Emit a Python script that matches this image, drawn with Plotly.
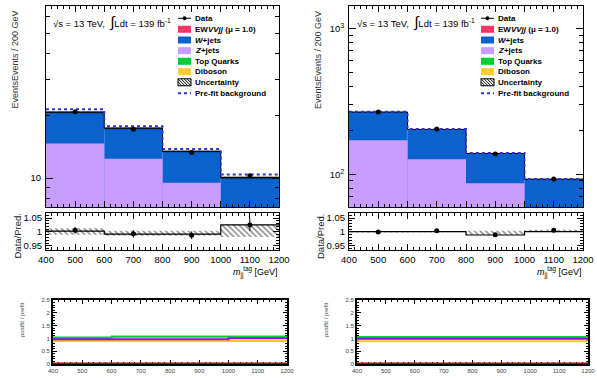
import plotly.graph_objects as go

W, H = 597, 379
FONT = "Liberation Sans, Arial, sans-serif"

# ---------------- data ----------------
edges = [400, 600, 800, 1000, 1200]
centers = [500, 700, 900, 1100]
bin_width = 200

# left region
L_data = [20.9, 17.2, 13.3, 10.25]
L_data_err = [0.25, 0.22, 0.2, 0.22]
L_zjets = [14.7, 12.4, 9.5, 6.8]
L_wjets = [6.1, 5.0, 3.95, 3.25]
L_prefit = [21.5, 17.8, 13.8, 10.4]
L_unc_rel = [0.011, 0.01, 0.01, 0.012]
L_ratio_data = [1.006, 0.993, 0.988, 1.025]
L_ratio_err = [0.012, 0.013, 0.014, 0.022]
L_ratio_line = [1.003, 0.992, 0.992, 1.025]
L_band_lo = [0.990, 0.986, 0.986, 0.982]
L_band_hi = [1.013, 1.004, 1.004, 1.026]
L_pf_top = [1.04, 1.07, 1.07, 1.07]
L_pf_top2 = [1.02, 1.05, 1.05, 1.05]
L_pf_z = [0.97, 0.97, 0.97, 1.01]
L_pf_dib = [0.9, 0.9, 0.9, 0.9]
L_pf_ew = [0.0, 0.0, 0.0, 0.0]

# right region
R_data = [267, 204, 138, 93]
R_data_err = [1.5, 1.2, 1.0, 0.8]
R_zjets = [171, 127, 87, 55]
R_wjets = [96, 76, 52, 37.5]
R_prefit = [268, 204, 140, 93]
R_unc_rel = [0.004, 0.004, 0.008, 0.006]
R_ratio_data = [1.0, 1.004, 0.99, 1.006]
R_ratio_err = [0.003, 0.004, 0.004, 0.004]
R_ratio_line = [1.001, 1.001, 0.989, 1.001]
R_band_lo = [0.998, 0.999, 0.989, 1.0]
R_band_hi = [1.003, 1.003, 1.004, 1.008]
R_pf_top = [1.05, 1.05, 1.05, 1.05]
R_pf_top2 = [1.04, 1.04, 1.04, 1.04]
R_pf_z = [0.99, 0.99, 0.99, 0.99]
R_pf_dib = [0.89, 0.89, 0.89, 0.89]
R_pf_ew = [0.0, 0.0, 0.0, 0.0]

C_EW = "#ff3366"
C_W = "#0a62cc"
C_Z = "#c99cff"
C_TOP = "#00cc33"
C_DIB = "#ffcc33"
C_PRE = "#3333cc"


def X(px):
    return px / W


def Y(py):
    return 1 - py / H


def step(vals):
    return edges, list(vals) + [vals[-1]]


fig = go.Figure()


def add_region(idx, data, data_err, zj, wj, prefit, unc_rel, rdata, rerr, rline,
               blo, bhi, pf_top, pf_top2, pf_z, pf_dib, pf_ew):
    xm, ym = f"x{idx}", f"y{idx}"
    xr, yr = f"x{idx+1}", f"y{idx+1}"
    xb, yb = f"x{idx+2}", f"y{idx+2}"
    total = [z + w for z, w in zip(zj, wj)]
    fig.add_trace(go.Bar(x=centers, y=total, width=bin_width, marker=dict(color=C_W, line_width=0),
                         xaxis=xm, yaxis=ym, showlegend=False))
    fig.add_trace(go.Bar(x=centers, y=zj, width=bin_width, marker=dict(color=C_Z, line_width=0),
                         xaxis=xm, yaxis=ym, showlegend=False))
    lo = [t * (1 - u) for t, u in zip(total, unc_rel)]
    hi = [t * (1 + u) for t, u in zip(total, unc_rel)]
    fig.add_trace(go.Bar(x=centers, y=[h - l for h, l in zip(hi, lo)], base=lo, width=bin_width,
                         marker=dict(color="rgba(20,20,40,0.55)", line_width=0,
                                     pattern=dict(shape="\\", fgcolor="black", size=3, solidity=0.4)),
                         xaxis=xm, yaxis=ym, showlegend=False))
    sx, sy = step(total)
    fig.add_trace(go.Scatter(x=sx, y=sy, mode="lines", line=dict(color="black", width=1, shape="hv"),
                             xaxis=xm, yaxis=ym, showlegend=False))
    px_, py_ = step(prefit)
    fig.add_trace(go.Scatter(x=px_, y=py_, mode="lines",
                             line=dict(color=C_PRE, width=2, dash="dot", shape="hv"),
                             xaxis=xm, yaxis=ym, showlegend=False))
    fig.add_trace(go.Scatter(x=centers, y=data, mode="markers",
                             marker=dict(color="black", size=5),
                             error_y=dict(type="data", array=data_err, color="black", thickness=1, width=0),
                             xaxis=xm, yaxis=ym, showlegend=False))
    # ratio panel
    fig.add_trace(go.Bar(x=centers, y=[h - l for h, l in zip(bhi, blo)], base=blo, width=bin_width,
                         marker=dict(color="rgba(0,0,0,0)", line_width=0,
                                     pattern=dict(shape="\\", fgcolor="black", size=4, solidity=0.35,
                                                  fillmode="overlay")),
                         xaxis=xr, yaxis=yr, showlegend=False))
    lx, ly = step(rline)
    fig.add_trace(go.Scatter(x=lx, y=ly, mode="lines", line=dict(color="black", width=1.2, shape="hv"),
                             xaxis=xr, yaxis=yr, showlegend=False))
    fig.add_trace(go.Scatter(x=centers, y=rdata, mode="markers",
                             marker=dict(color="black", size=5),
                             error_y=dict(type="data", array=rerr, color="black", thickness=1, width=0),
                             xaxis=xr, yaxis=yr, showlegend=False))
    # postfit / prefit panel
    for vals, col, lw in [(pf_top2, "#77ff77", 2), (pf_top, C_TOP, 2), (pf_dib, "#ffcc00", 2),
                          (pf_z, "#9900ff", 2), (pf_ew, "#aa0000", 3)]:
        bx, by = step(vals)
        fig.add_trace(go.Scatter(x=bx, y=by, mode="lines", line=dict(color=col, width=lw, shape="hv"),
                                 xaxis=xb, yaxis=yb, showlegend=False, cliponaxis=False))


add_region(1, L_data, L_data_err, L_zjets, L_wjets, L_prefit, L_unc_rel, L_ratio_data, L_ratio_err,
           L_ratio_line, L_band_lo, L_band_hi, L_pf_top, L_pf_top2, L_pf_z, L_pf_dib, L_pf_ew)
add_region(4, R_data, R_data_err, R_zjets, R_wjets, R_prefit, R_unc_rel, R_ratio_data, R_ratio_err,
           R_ratio_line, R_band_lo, R_band_hi, R_pf_top, R_pf_top2, R_pf_z, R_pf_dib, R_pf_ew)

tickfont = dict(family=FONT, size=9.5, color="black")
small_font = dict(family=FONT, size=6, color="#444")


def xaxis_common(dom, anchor, labels, font=tickfont, lw=1):
    return dict(domain=dom, anchor=anchor, range=[400, 1200], showline=True, linecolor="black",
                linewidth=lw, mirror="ticks", ticks="inside", ticklen=6, tickcolor="black",
                tick0=400, dtick=100, showgrid=False, zeroline=False, showticklabels=labels,
                tickfont=font, automargin=False, ticklabelstandoff=1,
                minor=dict(ticks="inside", ticklen=3, dtick=20, tickcolor="black"))


main_y = [Y(207), Y(6)]
ratio_y = [Y(250), Y(213)]
bot_y = [Y(364), Y(300)]
Lx = [X(46), X(279)]
Rx = [X(349), X(583)]
Lbx = [X(53), X(287)]
Rbx = [X(357), X(588)]

layout = dict(
    width=W, height=H, margin=dict(l=0, r=0, t=0, b=0, autoexpand=False), paper_bgcolor="white",
    plot_bgcolor="white", barmode="overlay", showlegend=False, font=dict(family=FONT, color="black"),
)

layout["xaxis"] = xaxis_common(Lx, "y", False)
layout["xaxis2"] = xaxis_common(Lx, "y2", True)
layout["xaxis3"] = xaxis_common(Lbx, "y3", True, small_font, 2)
layout["xaxis4"] = xaxis_common(Rx, "y4", False)
layout["xaxis5"] = xaxis_common(Rx, "y5", True)
layout["xaxis6"] = xaxis_common(Rbx, "y6", True, small_font, 2)
for k in ["xaxis3", "xaxis6"]:
    layout[k]["ticklen"] = 4
    layout[k]["minor"]["ticklen"] = 2
    layout[k]["ticklabelstandoff"] = 0
    layout[k]["layer"] = "below traces"

L_major = [10]
L_major_text = ["10"]
L_minor = [8, 9, 20, 30, 40, 50, 60]
R_major = [100, 1000]
R_major_text = ["10<sup>2</sup>", "10<sup>3</sup>"]
R_minor = [70, 80, 90, 200, 300, 400, 500, 600, 700, 800, 900]

for k, a, rng, tv, tt, mv in [("yaxis", "x", [0.86, 1.831], L_major, L_major_text, L_minor),
                              ("yaxis4", "x4", [1.776, 3.153], R_major, R_major_text, R_minor)]:
    layout[k] = dict(domain=main_y, anchor=a, type="log", range=rng, showline=True,
                     linecolor="black", mirror="ticks", ticks="inside", ticklen=7, tickcolor="black",
                     tickvals=tv, ticktext=tt, showgrid=False, zeroline=False, automargin=False,
                     tickfont=tickfont, ticklabelstandoff=2,
                     minor=dict(ticks="inside", ticklen=4, tickvals=mv, tickcolor="black"))
for k, a in [("yaxis2", "x2"), ("yaxis5", "x5")]:
    layout[k] = dict(domain=ratio_y, anchor=a, range=[0.935, 1.068], showline=True, linecolor="black",
                     mirror="ticks", ticks="inside", ticklen=6, tickcolor="black",
                     tickvals=[0.95, 1.0, 1.05], ticktext=["0.95", "1", "1.05"], showgrid=False,
                     zeroline=False, tickfont=tickfont, automargin=False, ticklabelstandoff=1,
                     minor=dict(ticks="inside", ticklen=3, dtick=0.01, tick0=0.9, tickcolor="black"))
for k, a in [("yaxis3", "x3"), ("yaxis6", "x6")]:
    layout[k] = dict(domain=bot_y, anchor=a, range=[0, 2.5], showline=True, linecolor="black", linewidth=2,
                     mirror="ticks", ticks="inside", ticklen=4, tickcolor="black",
                     tickvals=[0, 0.5, 1, 1.5, 2, 2.5], ticktext=["0", "0.5", "1", "1.5", "2", "2.5"],
                     showgrid=False, zeroline=False, tickfont=small_font, automargin=False,
                     ticklabelstandoff=0, layer="below traces",
                     minor=dict(ticks="inside", ticklen=2, dtick=0.1, tickcolor="black"))

fig.update_layout(**layout)

# ---------------- annotations & legend ----------------
ann = []
shapes = []
leg_font = dict(family=FONT, size=8, color="black")


def legend(sx0, tx):
    rows = [18.3, 29.3, 40, 50.7, 61.3, 71.7, 82.3, 93.3]
    labels = ["<b>Data</b>", "<b>EW<i>VVjj</i> (μ = 1.0)</b>", "<b><i>W</i>+jets</b>", "<b><i>Z</i>+jets</b>",
              "<b>Top Quarks</b>", "<b>Diboson</b>", "<b>Uncertainty</b>", "<b>Pre-fit background</b>"]
    fills = [None, C_EW, C_W, C_Z, C_TOP, C_DIB, None, None]
    for r, lab, f in zip(rows, labels, fills):
        ann.append(dict(x=X(tx), y=Y(r), xref="paper", yref="paper", xanchor="left", yanchor="middle",
                        text=lab, showarrow=False, font=leg_font))
        if f is not None:
            shapes.append(dict(type="rect", xref="paper", yref="paper", x0=X(sx0), x1=X(sx0 + 13),
                               y0=Y(r + 3.5), y1=Y(r - 3.5), fillcolor=f, line_width=0))
    # data symbol
    r = rows[0]
    shapes.append(dict(type="line", xref="paper", yref="paper", x0=X(sx0), x1=X(sx0 + 13), y0=Y(r), y1=Y(r),
                       line=dict(color="black", width=1)))
    shapes.append(dict(type="circle", xref="paper", yref="paper", x0=X(sx0 + 4.5), x1=X(sx0 + 8.5),
                       y0=Y(r + 2), y1=Y(r - 2), fillcolor="black", line_width=0))
    # uncertainty symbol
    r = rows[6]
    shapes.append(dict(type="rect", xref="paper", yref="paper", x0=X(sx0), x1=X(sx0 + 13),
                       y0=Y(r + 3.5), y1=Y(r - 3.5), fillcolor="white", line=dict(color="black", width=1)))
    path = ""
    for k in range(-6, 14, 3):
        xa, xb_ = sx0 + k, sx0 + k + 7
        ya, yb_ = r - 3.5, r + 3.5
        if xa < sx0:
            ya += (sx0 - xa)
            xa = sx0
        if xb_ > sx0 + 13:
            yb_ -= (xb_ - sx0 - 13)
            xb_ = sx0 + 13
        if xb_ > xa:
            path += f"M {X(xa)} {Y(ya)} L {X(xb_)} {Y(yb_)} "
    shapes.append(dict(type="path", xref="paper", yref="paper", path=path,
                       line=dict(color="black", width=1)))
    # prefit symbol
    r = rows[7]
    shapes.append(dict(type="line", xref="paper", yref="paper", x0=X(sx0), x1=X(sx0 + 13), y0=Y(r), y1=Y(r),
                       line=dict(color=C_PRE, width=2, dash="dot")))


legend(178, 193)
legend(481, 496)

lumi = "√s = 13 TeV,  <span style='font-size:15px'>∫</span>Ldt = 139 fb<sup>-1</sup>"
for x0 in [51, 355]:
    ann.append(dict(x=X(x0), y=Y(22), xref="paper", yref="paper", xanchor="left", yanchor="middle",
                    text=lumi, showarrow=False, font=dict(family=FONT, size=9.5, color="black")))

for x0 in [14.5, 318]:
    ann.append(dict(x=X(x0), y=Y(9), xref="paper", yref="paper", xanchor="center", yanchor="top",
                    text="EventsEvents / 200 GeV", textangle=-90, showarrow=False,
                    font=dict(family=FONT, size=9, color="#333")))
    ann.append(dict(x=X(x0 + 2.5), y=Y(212), xref="paper", yref="paper", xanchor="center", yanchor="top",
                    text="Data/Pred.", textangle=-90, showarrow=False,
                    font=dict(family=FONT, size=9.5, color="#222")))
for x0 in [22, 326]:
    ann.append(dict(x=X(x0), y=Y(320), xref="paper", yref="paper", xanchor="center", yanchor="middle",
                    text="postfit / prefit", textangle=-90, showarrow=False,
                    font=dict(family=FONT, size=6, color="#444")))
for x0 in [280, 584]:
    ann.append(dict(x=X(x0), y=Y(272), xref="paper", yref="paper", xanchor="right", yanchor="middle",
                    text="<i>m</i><sub>jj</sub><sup>tag</sup> [GeV]", showarrow=False,
                    font=dict(family=FONT, size=9, color="black")))

fig.update_layout(annotations=ann, shapes=shapes)
fig.write_html("out.html", config={"displayModeBar": False},
               post_script="document.body.style.margin='0';document.body.style.overflow='hidden';")
